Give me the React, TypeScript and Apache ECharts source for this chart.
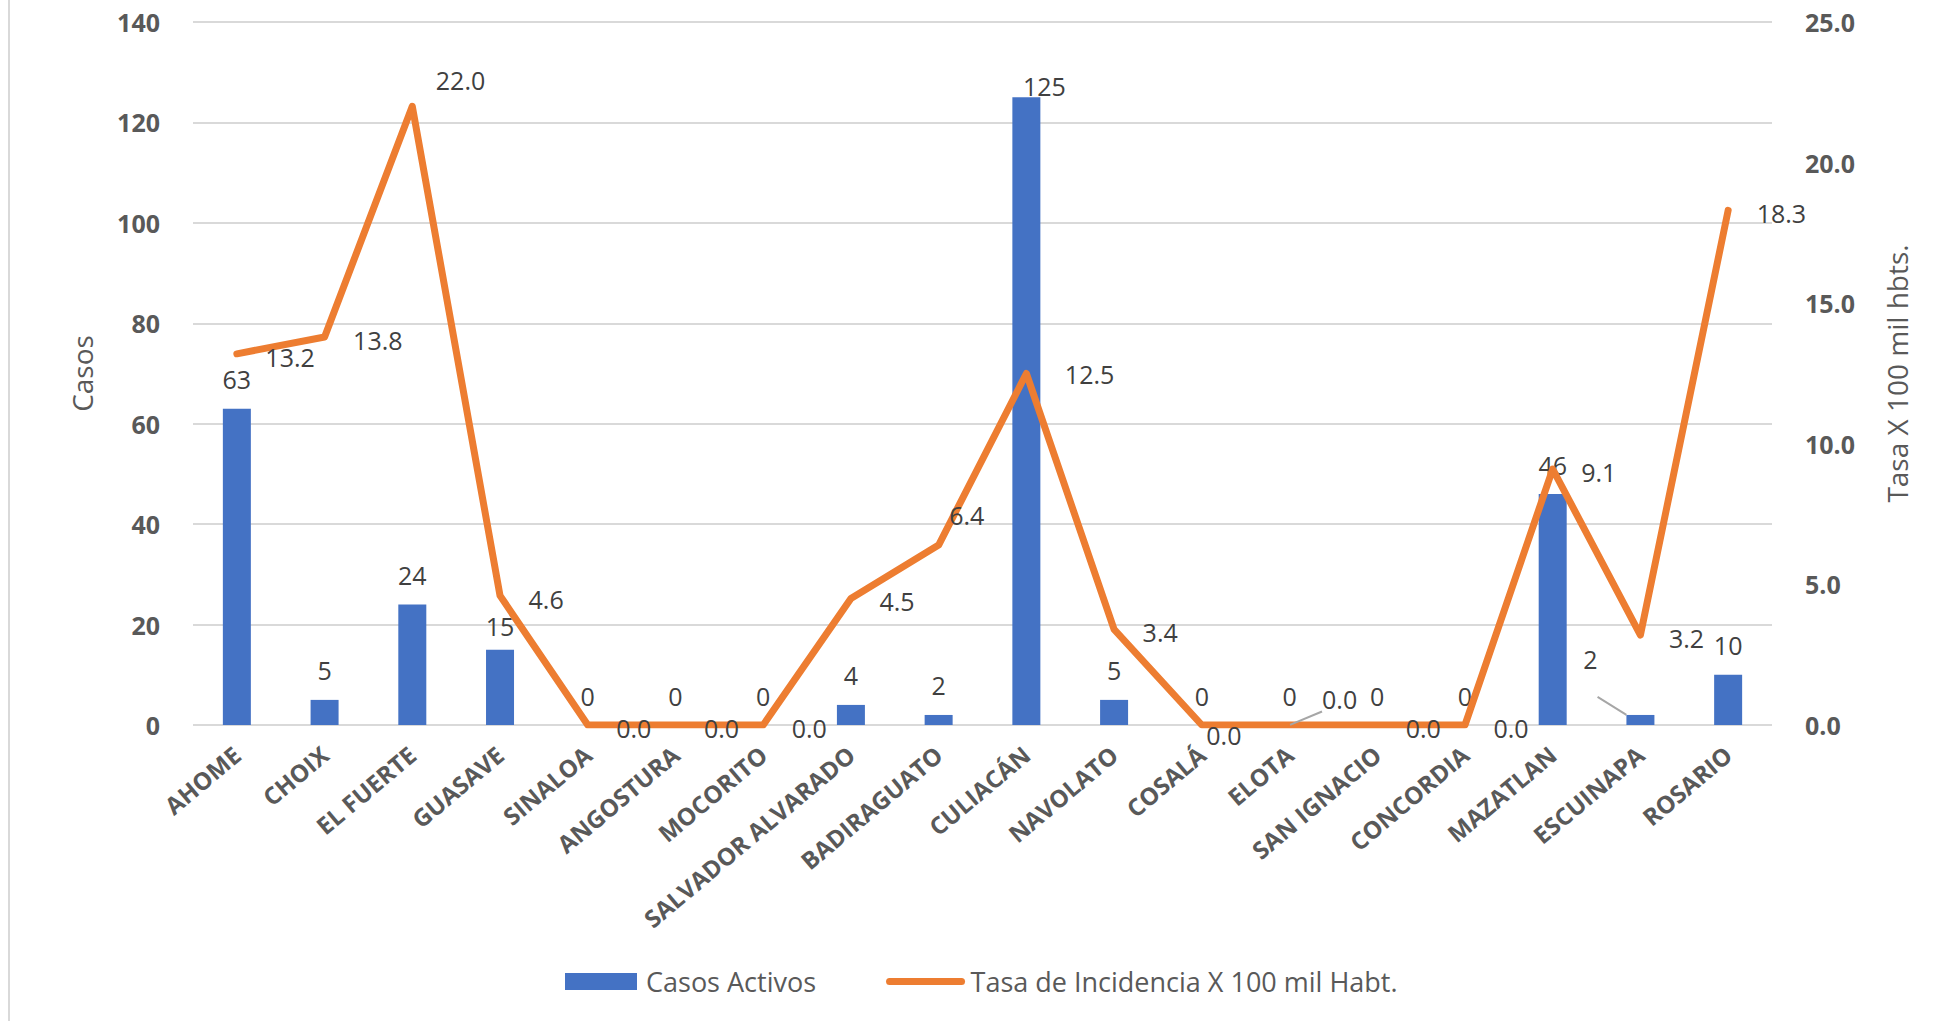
import React, { useEffect, useRef } from "react";
import * as echarts from "echarts";

const categories = [
  "AHOME", "CHOIX", "EL FUERTE", "GUASAVE", "SINALOA", "ANGOSTURA", "MOCORITO",
  "SALVADOR ALVARADO", "BADIRAGUATO", "CULIACÁN", "NAVOLATO", "COSALÁ", "ELOTA",
  "SAN IGNACIO", "CONCORDIA", "MAZATLAN", "ESCUINAPA", "ROSARIO",
];
const casosActivos = [63, 5, 24, 15, 0, 0, 0, 4, 2, 125, 5, 0, 0, 0, 0, 46, 2, 10];
const tasaIncidencia = [13.2, 13.8, 22.0, 4.6, 0.0, 0.0, 0.0, 4.5, 6.4, 12.5, 3.4, 0.0, 0.0, 0.0, 0.0, 9.1, 3.2, 18.3];
const leftAxisTicks = { min: 0, max: 140, interval: 20 };
const rightAxisTicks = { min: 0, max: 25, interval: 5 };
const seriesNames = ["Casos Activos", "Tasa de Incidencia X 100 mil Habt."];
const axisNames = ["Casos", "Tasa X 100 mil hbts."];

// label placement tweaks (positions only, not data)
const barLabelOffsets: Record<string, [number, number]> = {
  GUASAVE: [0, 6],
  "CULIACÁN": [18, 18],
  ESCUINAPA: [-50, -26],
};
const barLeader = new Set(["ESCUINAPA"]);
const lineLabelOffsets: Record<string, [number, number]> = {
  "EL FUERTE": [-5, -26],
  BADIRAGUATO: [-18, -30],
  "CULIACÁN": [10, 0],
  "COSALÁ": [-24, 10],
  ELOTA: [4, -26],
};
const lineLeader = new Set(["ELOTA"]);

const FONT = "'Open Sans', 'Liberation Sans', sans-serif";

export default function App() {
  const ref = useRef<HTMLDivElement>(null);
  useEffect(() => {
    document.body.style.margin = "0";
    const chart = echarts.init(ref.current!, undefined, { renderer: "svg" });
    const labelColor = "#404040";
    const axisColor = "#595959";
    const leaderStyle = { color: "#A6A6A6", width: 2 };

    const barData = casosActivos.map((v, i) => {
      const c = categories[i];
      const item: any = { value: v };
      if (barLabelOffsets[c]) item.label = { offset: barLabelOffsets[c] };
      if (barLeader.has(c)) item.labelLine = { show: true, lineStyle: leaderStyle };
      return item;
    });
    const lineData = tasaIncidencia.map((v, i) => {
      const c = categories[i];
      const item: any = { value: v };
      if (lineLabelOffsets[c]) item.label = { offset: lineLabelOffsets[c] };
      if (lineLeader.has(c)) item.labelLine = { show: true, lineStyle: leaderStyle };
      return item;
    });

    chart.setOption({
      animation: false,
      backgroundColor: "#ffffff",
      textStyle: { fontFamily: FONT },
      grid: { left: 193, right: 187, top: 22, bottom: 296, containLabel: false, outerBoundsMode: "none" },
      legend: {
        left: 560,
        top: 963,
        itemWidth: 72,
        itemHeight: 17,
        itemGap: 70,
        textStyle: { fontFamily: FONT, fontSize: 27, color: axisColor, padding: [0, 0, 0, 4] },
        data: [
          { name: seriesNames[0], icon: "rect" },
          { name: seriesNames[1], itemStyle: { opacity: 0 }, lineStyle: { width: 7, color: "#ED7D31" } },
        ],
      },
      xAxis: {
        type: "category",
        data: categories,
        axisLine: { show: false },
        axisTick: { show: false },
        axisLabel: {
          rotate: 40,
          interval: 0,
          margin: 26,
          fontFamily: FONT,
          fontSize: 24,
          fontWeight: "bold",
          color: axisColor,
        },
      },
      yAxis: [
        {
          type: "value",
          min: leftAxisTicks.min,
          max: leftAxisTicks.max,
          interval: leftAxisTicks.interval,
          name: axisNames[0],
          nameLocation: "middle",
          nameRotate: 90,
          nameGap: 97,
          nameTextStyle: { fontFamily: FONT, fontSize: 28, color: axisColor },
          axisLine: { show: false },
          axisTick: { show: false },
          axisLabel: { margin: 33, fontFamily: FONT, fontSize: 25, fontWeight: "bold", color: axisColor },
          splitLine: { show: true, lineStyle: { color: "#D9D9D9", width: 2 } },
        },
        {
          type: "value",
          position: "right",
          min: rightAxisTicks.min,
          max: rightAxisTicks.max,
          interval: rightAxisTicks.interval,
          name: axisNames[1],
          nameLocation: "middle",
          nameRotate: 90,
          nameGap: 111,
          nameTextStyle: { fontFamily: FONT, fontSize: 28, color: axisColor },
          axisLine: { show: false },
          axisTick: { show: false },
          axisLabel: {
            margin: 33,
            fontFamily: FONT,
            fontSize: 25,
            fontWeight: "bold",
            color: axisColor,
            formatter: (v: number) => v.toFixed(1),
          },
          splitLine: { show: false },
        },
      ],
      series: [
        {
          name: seriesNames[0],
          type: "bar",
          yAxisIndex: 0,
          barWidth: 28,
          itemStyle: { color: "#4472C4" },
          label: {
            show: true,
            position: "top",
            distance: 17,
            fontFamily: FONT,
            fontSize: 25,
            color: labelColor,
          },
          data: barData,
        },
        {
          name: seriesNames[1],
          type: "line",
          yAxisIndex: 1,
          symbol: "circle",
          symbolSize: 1,
          showSymbol: true,
          itemStyle: { color: "#ED7D31" },
          lineStyle: { color: "#ED7D31", width: 7, cap: "round", join: "round" },
          label: {
            show: true,
            position: "right",
            distance: 28,
            offset: [0, 3],
            fontFamily: FONT,
            fontSize: 25,
            color: labelColor,
            formatter: (p: any) => Number(p.value).toFixed(1),
          },
          data: lineData,
        },
      ],
      graphic: [
        {
          type: "line",
          shape: { x1: 9, y1: 0, x2: 9, y2: 1021 },
          style: { stroke: "#D9D9D9", lineWidth: 2 },
          silent: true,
        },
      ],
    });
    return () => chart.dispose();
  }, []);
  return (
    <div
      ref={ref}
      style={{ position: "fixed", left: 0, top: 0, width: 1959, height: 1021, background: "#fff" }}
    />
  );
}
